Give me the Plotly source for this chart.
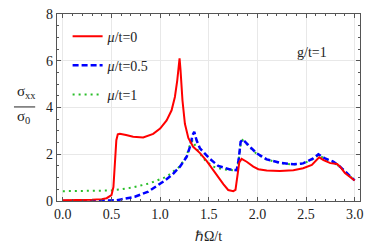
import plotly.graph_objects as go

# mu/t = 0
x_mu0 = [0.0, 0.1, 0.2, 0.3, 0.4, 0.45, 0.5, 0.52, 0.535, 0.55, 0.565, 0.586, 0.65, 0.723, 0.826,
         0.929, 1.0, 1.067, 1.118, 1.152, 1.176, 1.19, 1.2, 1.21, 1.23, 1.255, 1.29, 1.34, 1.41,
         1.478, 1.547, 1.61, 1.65, 1.70, 1.752, 1.775, 1.79, 1.814, 1.838, 1.89, 1.958, 2.01,
         2.096, 2.23, 2.37, 2.47, 2.56, 2.61, 2.635, 2.68, 2.75, 2.82, 2.85, 2.90, 2.95, 3.0]
y_mu0 = [0.03, 0.03, 0.04, 0.05, 0.08, 0.12, 0.25, 0.6, 1.6, 2.6, 2.85, 2.88, 2.82, 2.75, 2.72,
         2.87, 3.1, 3.45, 3.88, 4.45, 5.15, 5.7, 6.1, 5.6, 4.3, 3.3, 2.7, 2.32, 2.05,
         1.72, 1.32, 0.92, 0.72, 0.47, 0.42, 0.48, 0.9, 1.65, 1.8, 1.68, 1.47, 1.36,
         1.30, 1.28, 1.32, 1.40, 1.54, 1.75, 1.87, 1.75, 1.62, 1.58, 1.47, 1.2, 1.02, 0.88]

# mu/t = 0.5
x_mu05 = [0.0, 0.2, 0.4, 0.5, 0.55, 0.6, 0.74, 0.878, 0.95, 1.05, 1.13, 1.204, 1.273, 1.307,
          1.334, 1.351, 1.375, 1.41, 1.512, 1.598, 1.718, 1.787, 1.807, 1.828, 1.849, 1.906,
          1.99, 2.096, 2.23, 2.37, 2.47, 2.575, 2.627, 2.695, 2.78, 2.85, 2.92, 3.0]
y_mu05 = [0.0, 0.0, 0.0, 0.01, 0.03, 0.07, 0.18, 0.4, 0.6, 0.88, 1.15, 1.47, 1.89, 2.32,
          2.82, 2.96, 2.6, 2.25, 1.8, 1.5, 1.35, 1.32, 1.75, 2.53, 2.63, 2.4,
          2.05, 1.78, 1.64, 1.57, 1.61, 1.82, 2.0, 1.82, 1.68, 1.47, 1.18, 0.88]

# mu/t = 1
x_mu1 = [0.0, 0.2, 0.38, 0.5, 0.6, 0.72, 0.895, 1.067, 1.2, 1.27, 1.307, 1.335, 1.375, 1.44,
         1.478, 1.547, 1.65, 1.75, 1.787, 1.807, 1.828, 1.849, 1.906, 1.99, 2.096, 2.23, 2.37,
         2.47, 2.575, 2.627, 2.695, 2.78, 2.85, 2.92, 3.0]
y_mu1 = [0.42, 0.42, 0.42, 0.45, 0.5, 0.58, 0.76, 1.04, 1.47, 1.9, 2.4, 2.6, 2.25, 1.85,
         1.68, 1.47, 1.35, 1.3, 1.3, 1.7, 2.45, 2.6, 2.38, 2.02, 1.77, 1.63, 1.56,
         1.6, 1.8, 1.97, 1.8, 1.66, 1.46, 1.17, 0.88]

x_ticks = [0.0, 0.5, 1.0, 1.5, 2.0, 2.5, 3.0]
x_ticklabels = ["0.0", "0.5", "1.0", "1.5", "2.0", "2.5", "3.0"]
y_ticks = [0, 2, 4, 6, 8]
y_ticklabels = ["0", "2", "4", "6", "8"]

FONT = "Liberation Serif, Times New Roman, serif"

fig = go.Figure()
fig.add_trace(go.Scatter(x=x_mu1, y=y_mu1, mode="lines", name="<i>μ</i>/t=1",
                         legendgroup="c", legendrank=3,
                         line=dict(color="rgb(40,190,40)", width=2, dash="2px,4px")))
fig.add_trace(go.Scatter(x=x_mu05, y=y_mu05, mode="lines", name="<i>μ</i>/t=0.5",
                         legendgroup="b", legendrank=2,
                         line=dict(color="rgb(0,0,255)", width=2.5, dash="6px,3px")))
fig.add_trace(go.Scatter(x=x_mu0, y=y_mu0, mode="lines", name="<i>μ</i>/t=0",
                         legendgroup="a", legendrank=1,
                         line=dict(color="rgb(255,0,0)", width=2)))

axis_common = dict(
    showline=True, mirror="ticks", linecolor="#555", linewidth=1.3,
    ticks="inside", ticklen=4, tickcolor="#555",
    showgrid=True, gridcolor="#e8e8e8", gridwidth=1, zeroline=False,
    tickfont=dict(family=FONT, size=14, color="#222"), automargin=False,
)

fig.update_xaxes(range=[-0.06, 3.055], tickvals=x_ticks, ticktext=x_ticklabels,
                 minor=dict(dtick=0.1, tick0=0, ticks="inside", ticklen=2, tickcolor="#555"),
                 title=dict(text="ℏΩ/t", font=dict(family=FONT, size=14, color="#222"), standoff=10),
                 **axis_common)
fig.update_yaxes(range=[0, 8], tickvals=y_ticks, ticktext=y_ticklabels,
                 minor=dict(dtick=0.5, tick0=0, ticks="inside", ticklen=2, tickcolor="#555"),
                 **axis_common)

fig.add_annotation(x=-0.139, y=0.585, xref="paper", yref="paper", showarrow=False,
                   xanchor="left", yanchor="middle",
                   text="σ<sub>xx</sub>", font=dict(family=FONT, size=15, color="#222"))
fig.add_annotation(x=-0.139, y=0.45, xref="paper", yref="paper", showarrow=False,
                   xanchor="left", yanchor="middle",
                   text="σ<sub>0</sub>", font=dict(family=FONT, size=15, color="#222"))
fig.add_shape(type="line", xref="paper", yref="paper", x0=-0.142, x1=-0.072, y0=0.503, y1=0.503,
              line=dict(color="#222", width=1))
fig.add_annotation(x=0.898, y=0.845, xref="paper", yref="paper", showarrow=False,
                   text="g/t=1", font=dict(family=FONT, size=14, color="#222"))

fig.update_layout(
    width=374, height=249,
    margin=dict(l=57, r=14, t=14, b=48),
    paper_bgcolor="white", plot_bgcolor="white",
    showlegend=True,
    legend=dict(x=0.035, y=0.965, xanchor="left", yanchor="top", bgcolor="rgba(0,0,0,0)",
                font=dict(family=FONT, size=14, color="#222"), tracegroupgap=8,
                itemwidth=30),
)

fig.write_html("out.html", config={"displayModeBar": False},
               post_script="document.body.style.margin='0';")
